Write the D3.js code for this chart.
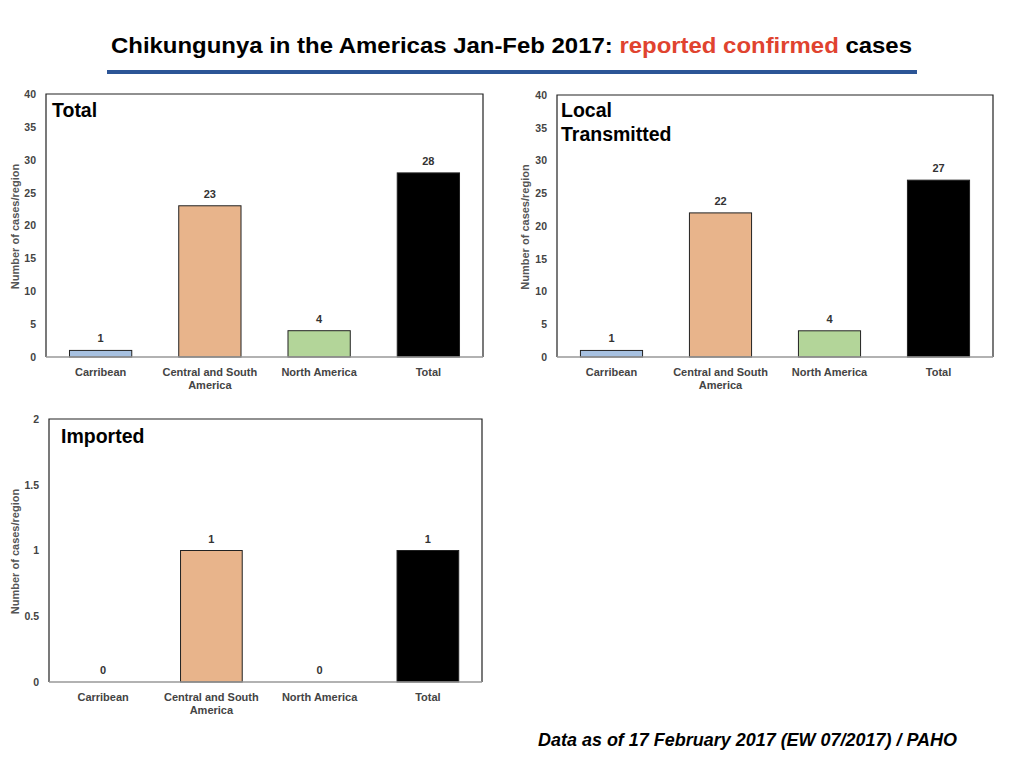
<!DOCTYPE html>
<html>
<head>
<meta charset="utf-8">
<script src="https://cdn.jsdelivr.net/npm/d3@7"></script>
<style>
  body { margin: 0; background: #fff; }
  svg { font-family: "Liberation Sans", Arial, sans-serif; }
</style>
</head>
<body>
<div id="container"></div>
<script>
/* DATA */
const regions = ["Carribean", "Central and South America", "North America", "Total"]
const regionLabels = [["Carribean"], ["Central and South", "America"], ["North America"], ["Total"]]
const totalCases = [1, 23, 4, 28]
const localCases = [1, 22, 4, 27]
const importedCases = [0, 1, 0, 1]
const casesTicks = [0, 5, 10, 15, 20, 25, 30, 35, 40]
const importedTicks = [0, 0.5, 1, 1.5, 2]

/* CONSTANTS */
const width = 1024,
  height = 768
const barColors = ["#a7c1e1", "#e8b48b", "#b3d599", "#000000"]

const svg = d3.select("#container")
  .append("svg")
  .attr("width", width)
  .attr("height", height)

// title
const title = svg.append("text")
  .attr("x", 111)
  .attr("y", 53)
  .attr("font-size", "22.5px")
  .attr("font-weight", "bold")
  .attr("textLength", 801)
  .attr("lengthAdjust", "spacingAndGlyphs")
title.append("tspan").text("Chikungunya in the Americas Jan-Feb 2017: ")
title.append("tspan").attr("fill", "#e0432f").text("reported confirmed")
title.append("tspan").text(" cases")

svg.append("line")
  .attr("x1", 107).attr("x2", 917)
  .attr("y1", 72).attr("y2", 72)
  .attr("stroke", "#2c5596")
  .attr("stroke-width", 4)

// footer
svg.append("text")
  .attr("x", 538)
  .attr("y", 746)
  .attr("font-size", "17.5px")
  .attr("font-weight", "bold")
  .attr("font-style", "italic")
  .attr("textLength", 419)
  .attr("lengthAdjust", "spacingAndGlyphs")
  .text("Data as of 17 February 2017 (EW 07/2017) / PAHO")

function drawPanel(box, values, ticks, titleLines, titlePos) {
  const g = svg.append("g")

  const xScale = d3.scaleBand()
    .domain(regions)
    .range([box.left, box.right])
    .paddingInner(0.43)
    .paddingOuter(0.215)

  const yScale = d3.scaleLinear()
    .domain(d3.extent(ticks))
    .range([box.bottom, box.top])

  // frame
  g.append("path")
    .attr("d", `M${box.left},${box.bottom}V${box.top}H${box.right}V${box.bottom}`)
    .attr("fill", "none")
    .attr("stroke", "#222")
    .attr("stroke-width", 1.2)

  // y axis (labels only)
  const yAxis = d3.axisLeft(yScale)
    .tickValues(ticks)
    .tickSize(0)
    .tickPadding(10)
    .tickFormat(d3.format("~g"))
  g.append("g")
    .attr("class", "y-axis")
    .attr("transform", `translate(${box.left},0)`)
    .call(yAxis)
    .call(sel => sel.select(".domain").remove())
    .call(sel => sel.selectAll("text")
      .attr("fill", "#444")
      .attr("font-size", "10.5px")
      .attr("font-weight", "bold")
      .attr("font-family", "'Liberation Sans', Arial, sans-serif"))

  g.append("text")
    .attr("transform", `translate(${box.labelX},${(box.top + box.bottom) / 2 + 1}) rotate(-90)`)
    .attr("text-anchor", "middle")
    .attr("font-size", "11px")
    .attr("font-weight", "bold")
    .attr("fill", "#555")
    .text("Number of cases/region")

  // bars
  g.selectAll("rect.bar")
    .data(values)
    .join("rect")
    .attr("class", "bar")
    .attr("x", (d, i) => xScale(regions[i]))
    .attr("y", d => yScale(d))
    .attr("width", xScale.bandwidth())
    .attr("height", d => box.bottom - yScale(d))
    .attr("fill", (d, i) => barColors[i])
    .attr("stroke", "#222")
    .attr("stroke-width", d => d > 0 ? 1 : 0)

  // value labels
  g.selectAll("text.value")
    .data(values)
    .join("text")
    .attr("class", "value")
    .attr("x", (d, i) => xScale(regions[i]) + xScale.bandwidth() / 2)
    .attr("y", d => yScale(d) - 8)
    .attr("text-anchor", "middle")
    .attr("font-size", "11px")
    .attr("font-weight", "bold")
    .attr("fill", "#333")
    .text(d => d)

  // x axis line
  g.append("line")
    .attr("x1", box.left).attr("x2", box.right)
    .attr("y1", box.bottom).attr("y2", box.bottom)
    .attr("stroke", "#999")
    .attr("stroke-width", 1.5)

  // category labels
  const xl = g.selectAll("text.xlabel")
    .data(regions)
    .join("text")
    .attr("class", "xlabel")
    .attr("text-anchor", "middle")
    .attr("font-size", "11px")
    .attr("font-weight", "bold")
    .attr("fill", "#444")
  xl.selectAll("tspan")
    .data((d, i) => regionLabels[i].map(t => ({ t, x: xScale(d) + xScale.bandwidth() / 2 })))
    .join("tspan")
    .attr("x", d => d.x)
    .attr("y", (d, j) => box.bottom + 19 + j * 13)
    .text(d => d.t)

  // panel title
  g.append("text")
    .attr("font-size", "19.5px")
    .attr("font-weight", "bold")
    .selectAll("tspan")
    .data(titleLines)
    .join("tspan")
    .attr("x", titlePos.x)
    .attr("y", (d, j) => titlePos.y + j * 24)
    .text(d => d)
}

drawPanel({ left: 46, right: 483, top: 94, bottom: 357, labelX: 19 }, totalCases, casesTicks, ["Total"], { x: 52, y: 117 })
drawPanel({ left: 557, right: 993, top: 95, bottom: 357, labelX: 529 }, localCases, casesTicks, ["Local", "Transmitted"], { x: 561, y: 117 })
drawPanel({ left: 49, right: 482, top: 419, bottom: 682, labelX: 19 }, importedCases, importedTicks, ["Imported"], { x: 61, y: 443 })
</script>
</body>
</html>
